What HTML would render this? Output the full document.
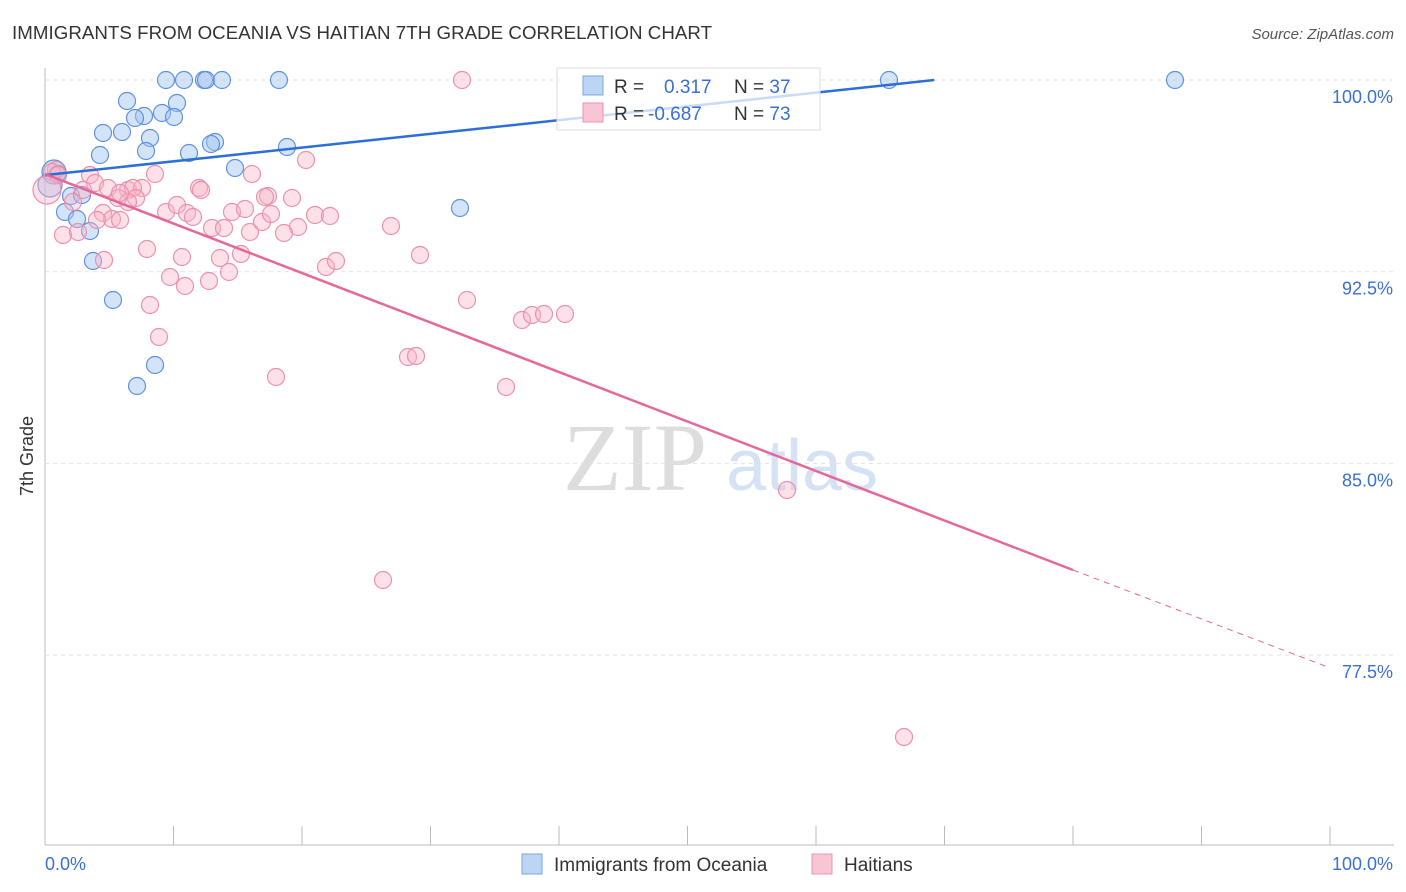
<!DOCTYPE html>
<html><head><meta charset="utf-8"><style>
body{margin:0;background:#fff;font-family:"Liberation Sans",sans-serif}
svg{display:block}
</style></head><body>
<svg id="c" width="1406" height="892">
<text x="12" y="39" font-size="18.7" fill="#333" textLength="700">IMMIGRANTS FROM OCEANIA VS HAITIAN 7TH GRADE CORRELATION CHART</text>
<text x="1394" y="39" font-size="15" fill="#555" text-anchor="end" font-style="italic">Source: ZipAtlas.com</text>
<text x="635" y="490" font-size="96" fill="#ddd" font-family="Liberation Serif" text-anchor="middle">ZIP</text>
<text x="802" y="490" font-size="72" fill="#d4e2f4" text-anchor="middle">atlas</text>
<text transform="translate(33,456) rotate(-90)" font-size="18" fill="#333" text-anchor="middle">7th Grade</text>
<g id="grid"></g><g id="pts"></g><g id="lines"></g>
<g>
<rect x="557" y="68" width="263" height="62" fill="#fff" fill-opacity="0.75" stroke="#ddd"/>
<rect x="583" y="76" width="20" height="19" fill="#bcd5f5" stroke="#7fa7e0"/>
<rect x="583" y="103" width="20" height="19" fill="#f9c5d4" stroke="#eb93ae"/>
<text x="614" y="93" font-size="19" fill="#333">R = <tspan fill="#3b6fd0" x="664">0.317</tspan><tspan x="734" fill="#333">N = </tspan><tspan fill="#3b6fd0">37</tspan></text>
<text x="614" y="120" font-size="19" fill="#333">R = <tspan fill="#3b6fd0" x="648">-0.687</tspan><tspan x="734" fill="#333">N = </tspan><tspan fill="#3b6fd0">73</tspan></text>
</g>
<g>
<rect x="522" y="854" width="20" height="20" fill="#bcd5f5" stroke="#7fa7e0"/>
<text x="554" y="871" font-size="19" fill="#333">Immigrants from Oceania</text>
<rect x="812" y="854" width="20" height="20" fill="#f9c5d4" stroke="#eb93ae"/>
<text x="844" y="871" font-size="19" fill="#333">Haitians</text>
</g>
<text x="45" y="870" font-size="18" fill="#3b6fd0">0.0%</text>
<text x="1393" y="870" font-size="18" fill="#3b6fd0" text-anchor="end">100.0%</text>
</svg>
<script>
const yTicks=[100,92.5,85,77.5];
const yTickLabels=["100.0%","92.5%","85.0%","77.5%"];
const xTicks=[0,10,20,30,40,50,60,70,80,90,100];
const bluePts=[[166,80],[184,80],[204,80],[206,80],[222,80],[279,80],[889,80],[1175,80],[127,101],[177,103],[144,116],[162,113],[174,117],[135,118],[103,133],[122,132],[150,138],[215,142],[211,144],[100,155],[146,151],[189,153],[287,147],[235,168],[54,172],[58,174],[71,196],[82,195],[65,212],[77,219],[90,231],[93,261],[113,300],[155,365],[137,386],[460,208],[50,185]].map(p=>[(p[0]-45)/12.85,100-(p[1]-80)/25.56]);
const pinkPts=[[462,80],[56,170],[52,172],[58,175],[90,175],[95,183],[83,190],[108,188],[128,190],[142,188],[133,188],[155,174],[199,188],[201,190],[118,198],[136,198],[128,202],[73,202],[103,213],[112,219],[120,220],[166,212],[177,205],[187,213],[193,217],[212,228],[224,228],[232,212],[245,209],[250,232],[262,222],[268,196],[265,197],[271,214],[252,174],[306,160],[292,198],[298,227],[284,233],[315,215],[330,216],[63,235],[78,232],[104,260],[147,249],[150,305],[159,337],[170,277],[185,286],[182,257],[209,281],[220,258],[229,272],[241,254],[326,267],[336,261],[391,226],[420,255],[467,300],[522,320],[532,315],[544,314],[565,314],[408,357],[416,356],[276,377],[506,387],[787,490],[383,580],[904,737],[120,193],[97,220],[47,190]].map(p=>[(p[0]-45)/12.85,100-(p[1]-80)/25.56]);
const blueLine=[0,96.28,69.2,100];
const pinkLine=[0,96.32,80,80.83,100,77];
const X=v=>45+v*12.85, Y=v=>80+(100-v)*25.56;
const ns="http://www.w3.org/2000/svg";
function mk(t,a,p){const e=document.createElementNS(ns,t);for(const k in a)e.setAttribute(k,a[k]);p.appendChild(e);return e;}
const g=document.getElementById('grid');
mk('line',{x1:45,y1:68,x2:45,y2:845,stroke:'#bbb'},g);
mk('line',{x1:45,y1:845,x2:1394,y2:845,stroke:'#bbb'},g);
yTicks.forEach((v,i)=>{
 const l=mk('line',{x1:45,y1:Y(v),x2:1394,y2:Y(v),stroke:'#e2e2e2','stroke-dasharray':'4,4'},g);
 
 
 const t=mk('text',{x:1393,y:Y(v)+23,'font-size':18,fill:'#3b6fd0','text-anchor':'end'},g);
 t.textContent=yTickLabels[i];
 
 
});
xTicks.forEach(v=>{
 const l=mk('line',{x1:X(v),y1:826,x2:X(v),y2:845,stroke:'#bbb'},g);
 
 
});
const pg=document.getElementById('pts');
bluePts.forEach(p=>{
 const c=mk('circle',{cx:X(p[0]),cy:Y(p[1]),r:p[0]<1?12:8.5,fill:'rgba(160,195,240,0.45)',stroke:'#5f92dc','stroke-width':1.2},pg);
 
 
});
pinkPts.forEach(p=>{
 const c=mk('circle',{cx:X(p[0]),cy:Y(p[1]),r:p[0]<0.5?14:8.5,fill:'rgba(248,180,200,0.4)',stroke:'#ec90ad','stroke-width':1.2},pg);
 
 
});
const lg=document.getElementById('lines');
let l=mk('line',{x1:X(blueLine[0]),y1:Y(blueLine[1]),x2:X(blueLine[2]),y2:Y(blueLine[3]),stroke:'#2c6fd6','stroke-width':2.5},lg);


l=mk('line',{x1:X(pinkLine[0]),y1:Y(pinkLine[1]),x2:X(pinkLine[2]),y2:Y(pinkLine[3]),stroke:'#e6679a','stroke-width':2.5},lg);


l=mk('line',{x1:X(pinkLine[2]),y1:Y(pinkLine[3]),x2:X(pinkLine[4]),y2:Y(pinkLine[5]),stroke:'#e6679a','stroke-width':1,'stroke-dasharray':'6,5'},lg);


</script>
</body></html>
